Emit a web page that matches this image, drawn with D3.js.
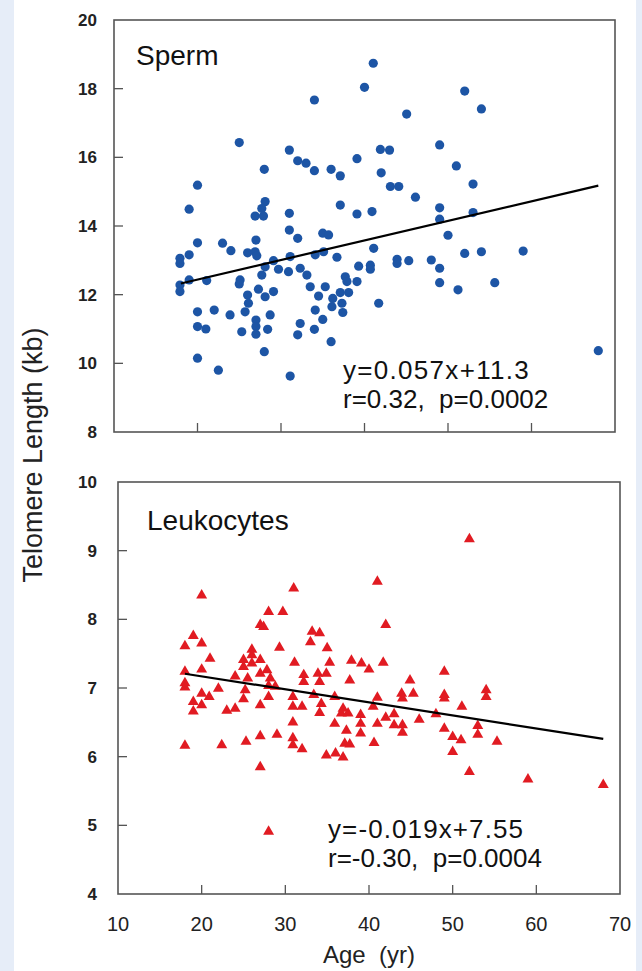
<!DOCTYPE html>
<html>
<head>
<meta charset="utf-8">
<script src="https://cdn.jsdelivr.net/npm/d3@7"></script>
<style>
  html, body { margin: 0; padding: 0; background: #e6edf8; }
  svg { display: block; }
</style>
</head>
<body>
<svg id="chart" width="642" height="971"></svg>
<script>
// Sperm telomere length vs age (kb)
const spermAge = [25.0,31.0,32.0,33.0,34.0,36.0,37.1,39.1,41.9,43.0,49.0,51.0,53.0,28.0,20.0,19.0,42.0,43.1,44.1,46.1,
  37.1,39.1,40.9,49.0,49.0,53.0,28.1,27.7,26.9,27.9,31.0,31.0,32.0,35.0,35.7,50.0,20.0,23.0,24.0,27.0,
  26.0,26.9,27.1,19.0,17.9,17.9,19.0,21.1,17.9,17.9,25.1,25.0,27.7,28.1,29.1,29.7,30.9,31.1,32.3,33.1,
  34.1,35.1,36.7,39.3,40.7,40.7,41.1,43.9,43.9,45.3,48.0,49.0,49.0,52.0,54.0,55.6,51.2,41.7,39.1,37.7,
  37.9,38.1,37.1,37.3,37.4,36.2,36.1,35.3,34.5,33.5,34.1,35.0,34.0,32.3,32.0,36.0,29.1,28.1,27.3,26.0,
  26.1,25.7,23.9,22.0,20.0,20.0,21.0,25.3,27.0,27.0,27.0,28.4,28.7,28.0,20.0,22.5,31.1,
  41.05,40.0,34.0,52.0,54.0,45.05,59.0,68.0];
const spermLength = [16.43,16.21,15.9,15.83,15.61,15.65,15.46,15.96,16.23,16.21,16.36,15.75,15.22,15.65,15.19,14.49,15.55,15.15,15.15,14.84,
  14.61,14.35,14.42,14.53,14.2,14.39,14.71,14.51,14.29,14.29,14.37,13.88,13.64,13.79,13.74,13.73,13.51,13.5,13.28,13.59,
  13.22,13.25,13.13,13.16,13.06,12.91,12.43,12.41,12.28,12.09,12.43,12.31,12.57,12.81,12.99,12.74,12.67,13.11,12.77,12.57,
  13.16,13.25,13.09,12.83,12.86,12.74,13.35,13.03,12.91,12.99,13.01,12.77,12.35,13.2,13.25,12.35,12.14,11.75,12.38,12.52,
  12.38,12.06,12.06,11.75,11.48,11.89,11.65,12.23,11.96,12.23,11.55,11.28,10.99,11.16,10.83,10.63,12.09,11.94,12.16,11.99,
  11.75,11.5,11.41,11.55,11.5,11.07,11.0,10.92,11.26,11.07,10.85,10.99,11.41,10.34,10.15,9.8,9.63,
  18.74,18.04,17.67,17.93,17.41,17.26,13.27,10.37];

// Leukocyte telomere length vs age (kb)
const leukoAge = [20.0,31.0,41.0,28.0,29.7,27.0,27.4,42.0,33.2,34.1,33.0,19.0,20.0,18.0,21.0,26.0,26.0,25.0,27.0,25.0,
  26.0,29.3,35.0,35.3,31.1,37.9,39.1,40.0,41.7,20.0,18.0,24.0,27.8,27.0,28.2,28.8,28.0,25.5,32.2,32.2,
  33.9,34.9,34.1,37.7,44.9,49.0,18.0,18.0,22.0,25.2,20.0,20.9,19.0,20.0,19.0,23.0,24.0,25.0,27.0,28.0,
  30.9,30.9,32.0,33.4,34.3,34.1,35.9,36.9,36.7,37.5,39.0,40.5,41.0,43.9,44.0,45.3,49.0,49.0,51.1,54.0,
  54.0,43.0,42.0,46.0,48.0,30.9,35.9,39.0,41.0,43.0,44.0,44.0,49.0,50.0,51.0,53.0,53.0,55.3,37.3,39.0,
  30.9,30.9,32.0,29.0,27.0,25.3,22.4,18.0,27.0,34.9,36.0,36.9,37.1,37.7,40.6,50.0,52.0,52.0,59.0,68.0,28.0];
const leukoLength = [8.35,8.45,8.55,8.11,8.11,7.92,7.89,7.92,7.82,7.8,7.67,7.76,7.65,7.61,7.43,7.56,7.48,7.41,7.41,7.31,
  7.36,7.59,7.58,7.37,7.37,7.4,7.36,7.27,7.37,7.27,7.24,7.17,7.26,7.21,7.14,7.02,7.03,7.14,7.19,7.09,
  7.21,7.21,7.09,7.11,7.11,7.24,7.07,7.01,6.99,6.97,6.92,6.87,6.8,6.75,6.66,6.67,6.7,6.84,6.75,6.87,
  6.87,6.73,6.73,6.9,6.77,6.64,6.87,6.7,6.63,6.63,6.61,6.73,6.86,6.92,6.85,6.92,6.9,6.85,6.73,6.97,
  6.87,6.62,6.57,6.54,6.62,6.5,6.48,6.48,6.48,6.46,6.46,6.35,6.41,6.29,6.24,6.45,6.32,6.22,6.38,6.34,
  6.27,6.17,6.11,6.32,6.3,6.22,6.17,6.16,5.85,6.02,6.05,5.99,6.19,6.18,6.2,6.07,5.78,9.17,5.67,5.59,4.91];

// Axis ticks and fits
const ageTicks = [10, 20, 30, 40, 50, 60, 70];
const spermTicks = [8, 10, 12, 14, 16, 18, 20];
const leukoTicks = [4, 5, 6, 7, 8, 9, 10];
const spermFit = { slope: 0.057, intercept: 11.3, from: 18, to: 68 };
const leukoFit = { slope: -0.019, intercept: 7.55, from: 18, to: 68 };

const svg = d3.select('#chart');
const font = '"Liberation Sans", Arial, sans-serif';
const NB = '\u00a0';

// white paper behind the figure
svg.append('rect').attr('x', 14).attr('y', 0).attr('width', 622).attr('height', 971).attr('fill', '#fff');

function drawPanel(opt) {
  const x = d3.scaleLinear().domain([10, 70]).range(opt.xRange);
  const y = d3.scaleLinear().domain(opt.yDomain).range(opt.yRange);
  const g = svg.append('g');

  // inner ticks
  const inner = opt.yTicks.slice(1, -1);
  g.selectAll('.yt').data(inner).enter().append('line')
    .attr('x1', x(10)).attr('x2', x(10) + 9)
    .attr('y1', d => y(d)).attr('y2', d => y(d))
    .attr('stroke', '#555').attr('stroke-width', 1.3);
  g.selectAll('.xt').data(ageTicks.slice(1, -1)).enter().append('line')
    .attr('x1', d => x(d)).attr('x2', d => x(d))
    .attr('y1', y(opt.yDomain[0])).attr('y2', y(opt.yDomain[0]) - 9)
    .attr('stroke', '#555').attr('stroke-width', 1.3);

  // y tick labels
  g.selectAll('.yl').data(opt.yTicks).enter().append('text')
    .attr('x', 97).attr('y', d => y(d) + 6)
    .attr('text-anchor', 'end')
    .attr('font-family', font).attr('font-size', 17).attr('font-weight', 'bold')
    .attr('fill', '#222')
    .text(d => d);

  // points
  if (opt.shape === 'circle') {
    g.selectAll('.pt').data(opt.ages).enter().append('circle')
      .attr('cx', d => x(d)).attr('cy', (d, i) => y(opt.values[i]))
      .attr('r', 4.6).attr('fill', opt.color);
  } else {
    const tri = d3.symbol().type(d3.symbolTriangle).size(52);
    g.selectAll('.pt').data(opt.ages).enter().append('path')
      .attr('d', tri)
      .attr('transform', (d, i) => `translate(${x(d)},${y(opt.values[i])})`)
      .attr('fill', opt.color);
  }

  // regression line
  const f = opt.fit;
  g.append('line')
    .attr('x1', x(f.from)).attr('y1', y(f.slope * f.from + f.intercept))
    .attr('x2', x(f.to)).attr('y2', y(f.slope * f.to + f.intercept))
    .attr('stroke', '#000').attr('stroke-width', 2.2);

  // frame
  g.append('rect')
    .attr('x', x(10)).attr('y', y(opt.yDomain[1]))
    .attr('width', x(70) - x(10)).attr('height', y(opt.yDomain[0]) - y(opt.yDomain[1]))
    .attr('fill', 'none').attr('stroke', '#555').attr('stroke-width', 1.6);

  // labels
  g.append('text').attr('x', opt.title[0]).attr('y', opt.title[1])
    .attr('font-family', font).attr('font-size', 28).attr('fill', '#111')
    .text(opt.name);
  opt.notes.forEach((t, i) => {
    g.append('text').attr('x', opt.noteX).attr('y', opt.noteY + i * 29)
      .attr('font-family', font).attr('font-size', 26).attr('fill', '#111')
      .attr('letter-spacing', opt.noteSpacing[i])
      .text(t);
  });
  return x;
}

drawPanel({
  xRange: [114, 615], yDomain: [8, 20], yRange: [432, 20], yTicks: spermTicks,
  ages: spermAge, values: spermLength, shape: 'circle', color: '#1d55a5', fit: spermFit,
  name: 'Sperm', title: [136, 65],
  notes: ['y=0.057x+11.3', 'r=0.32,' + NB + NB + 'p=0.0002'], noteSpacing: [1.3, 0],
  noteX: 343, noteY: 379
});

const xb = drawPanel({
  xRange: [118, 620], yDomain: [4, 10], yRange: [894, 482], yTicks: leukoTicks,
  ages: leukoAge, values: leukoLength, shape: 'triangle', color: '#e11b22', fit: leukoFit,
  name: 'Leukocytes', title: [147, 530],
  notes: ['y=-0.019x+7.55', 'r=-0.30,' + NB + NB + 'p=0.0004'], noteSpacing: [1.1, 0],
  noteX: 328, noteY: 838
});

// x tick labels (bottom panel only)
svg.selectAll('.xl').data(ageTicks).enter().append('text')
  .attr('x', d => xb(d)).attr('y', 931)
  .attr('text-anchor', 'middle')
  .attr('font-family', font).attr('font-size', 20).attr('fill', '#222')
  .text(d => d);

// axis titles
svg.append('text')
  .attr('x', 369).attr('y', 963)
  .attr('text-anchor', 'middle')
  .attr('font-family', font).attr('font-size', 24).attr('fill', '#222')
  .text('Age' + NB + NB + '(yr)');

svg.append('text')
  .attr('transform', 'translate(42,455) rotate(-90)')
  .attr('text-anchor', 'middle')
  .attr('font-family', font).attr('font-size', 27).attr('fill', '#222')
  .text('Telomere Length (kb)');
</script>
</body>
</html>
